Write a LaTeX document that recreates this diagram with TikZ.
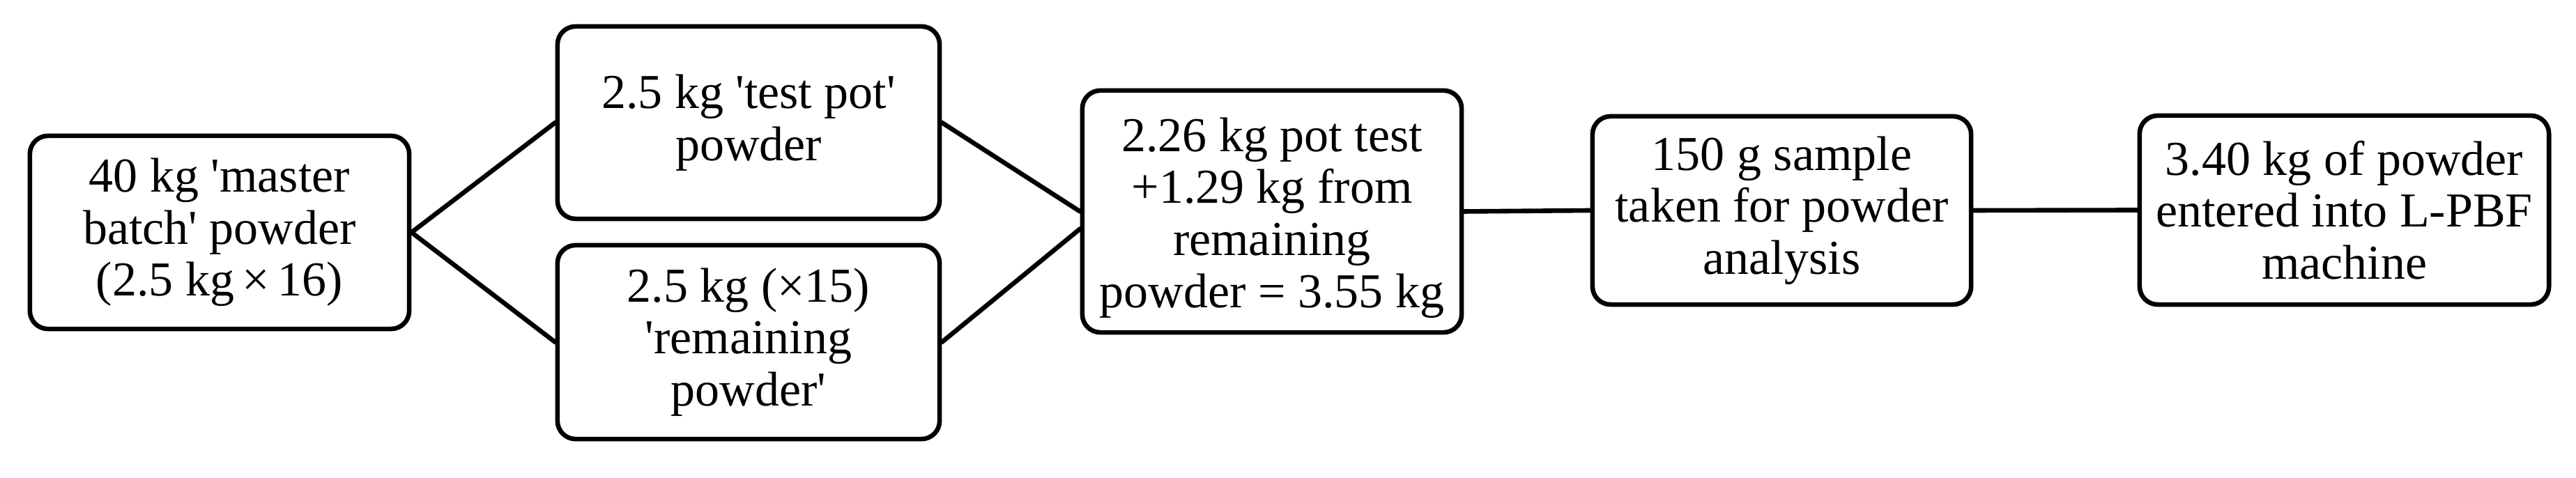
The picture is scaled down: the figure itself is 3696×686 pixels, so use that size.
\documentclass[tikz,border=0pt]{standalone}
\usepackage{fontspec}
\setmainfont{Liberation Serif}[Ligatures=TeXOff]
\usetikzlibrary{calc}
\begin{document}
\begin{tikzpicture}[x=0.01cm,y=-0.01cm,
  boxnode/.style={draw=black, line width=0.066cm, rounded corners=0.26cm,
    inner sep=0pt, align=center, fill=white,
    font=\fontsize{19.9pt}{21.2pt}\selectfont},
  link/.style={line width=0.066cm, line cap=round}]
\useasboundingbox (0,0) rectangle (3696,686);
\node[boxnode, minimum width=5.44cm, minimum height=2.77cm] (b1) at (315,333.5)
  {40 kg 'master\\batch' powder\\(2.5 kg\,×\,16)};
\node[boxnode, minimum width=5.48cm, minimum height=2.76cm] (b2) at (1074,176)
  {2.5 kg 'test pot'\\powder};
\node[boxnode, minimum width=5.48cm, minimum height=2.78cm] (b3) at (1074,491)
  {2.5 kg (×15)\\'remaining\\powder'};
\node[boxnode, minimum width=5.44cm, minimum height=3.47cm] (b4) at (1825,303.5) {};
\node[align=center, inner sep=0pt, font=\fontsize{19.9pt}{21.2pt}\selectfont] (b4text)
  at ($(b4.center)+(0,9)$)
  {2.26 kg pot test\\+1.29 kg from\\remaining\\powder = 3.55 kg};
\node[boxnode, minimum width=5.43cm, minimum height=2.70cm] (b5) at (2556.5,302)
  {150 g sample\\taken for powder\\analysis};
\node[boxnode, minimum width=5.87cm, minimum height=2.71cm] (b6) at (3363.5,301.5)
  {3.40 kg of powder\\entered into L-PBF\\machine};
\coordinate (b4low) at ($(b4.west)+(0,25)$);
\draw[link] (b1.east) -- (b2.west);
\draw[link] (b1.east) -- (b3.west);
\draw[link] (b2.east) -- (b4.west);
\draw[link] (b3.east) -- (b4low);
\draw[link] (b4.east) -- (b5.west);
\draw[link] (b5.east) -- (b6.west);
\end{tikzpicture}
\end{document}
